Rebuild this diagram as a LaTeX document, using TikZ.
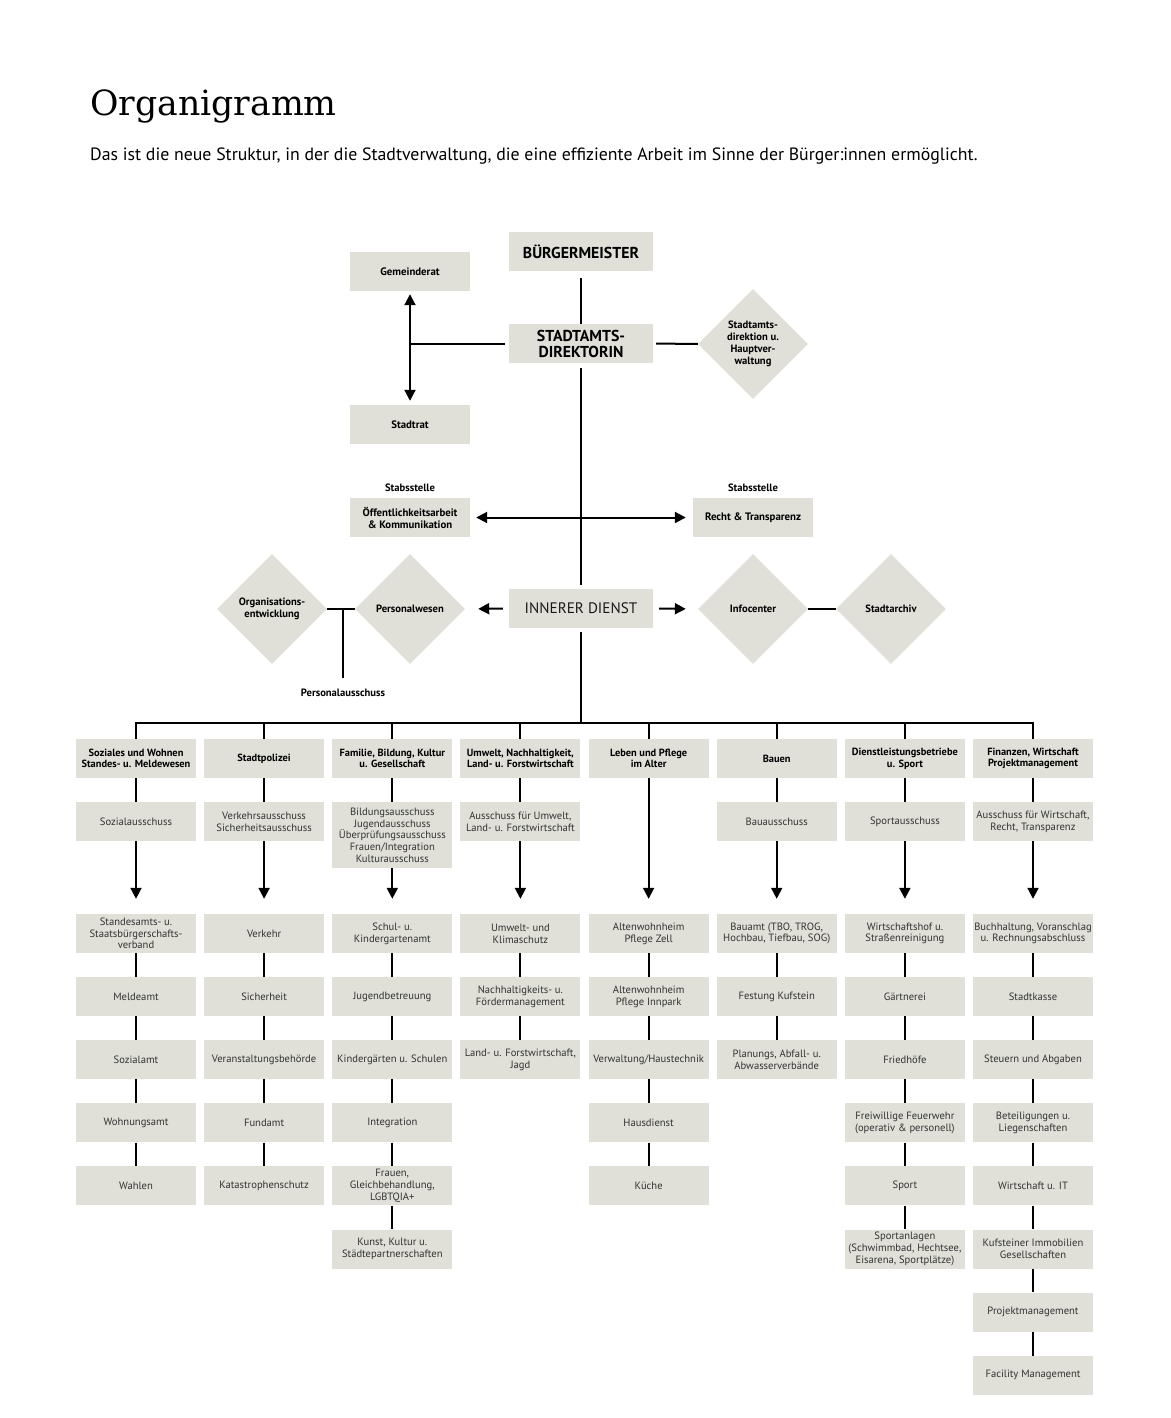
\documentclass[tikz,border=0pt]{standalone}
\usepackage{fontspec}
\setmainfont{PT Sans}
\newfontfamily\titlefont{DejaVu Serif}
\usetikzlibrary{shapes.geometric, arrows.meta, positioning, calc}
\definecolor{boxgrey}{RGB}{224,224,217}
\definecolor{textgrey}{RGB}{50,50,50}

\begin{document}
\begin{tikzpicture}[
        x=1pt, y=-1pt,
        node distance=23.7pt, % Abstand zwischen den Kästchen
        box/.style={rectangle, fill=boxgrey, minimum width=120pt, minimum height=39pt, inner sep=1.5pt, align=center, text=textgrey, font=\fontsize{10.6}{11.7}\selectfont},
        head/.style={box, text=black, font=\bfseries\fontsize{10.4}{11.7}\selectfont},
        topbox/.style={box, text=black, font=\bfseries\fontsize{10.8}{12}\selectfont},
        chief/.style={box, minimum width=144pt, text=black, font=\bfseries\fontsize{15.8}{16}\selectfont},
        rhombus/.style={diamond, fill=boxgrey, minimum width=110pt, minimum height=110pt, inner sep=0pt, align=center, font=\bfseries\fontsize{10.6}{11.8}\selectfont},
        tag/.style={font=\bfseries\fontsize{10.6}{12}\selectfont, inner sep=0pt},
        conn/.style={line width=2pt},
        arrow/.style={conn, -{Triangle[length=11pt, width=11pt]}},
        twoway/.style={conn, {Triangle[length=11pt, width=11pt]}-{Triangle[length=11pt, width=11pt]}}
    ]
    \fill[white] (0,0) rectangle (1170,1418);
    \useasboundingbox (0,0) rectangle (1170,1418);

    % --- Titel ---
    \node[anchor=base west, inner sep=0pt, font=\titlefont\fontsize{34.7}{40}\selectfont] (title) at (90,116) {Organigramm};
    \node[anchor=base west, inner sep=0pt, font=\fontsize{17.8}{20}\selectfont] (intro) at (90,160) {Das ist die neue Struktur, in der die Stadtverwaltung, die eine effiziente Arbeit im Sinne der Bürger:innen ermöglicht.};

    % --- Spitze ---
    \node[chief] (bm) at (581,251.5) {BÜRGERMEISTER};
    \node[chief] (sad) at (581,343.5) {STADTAMTS-\\DIREKTORIN};
    \node[topbox] (gr) at (410,271.5) {Gemeinderat};
    \node[topbox] (sr) at (410,424.5) {Stadtrat};
    \node[rhombus] (shv) at (753,344) {Stadtamts-\\direktion u.\\Hauptver-\\waltung};

    % --- Stabsstellen ---
    \node[topbox] (oek) at (410,517.5) {Öffentlichkeitsarbeit\\\& Kommunikation};
    \node[topbox] (rt) at (753,517.5) {Recht \& Transparenz};
    \node[tag, above=6pt of oek] (st_l) {Stabsstelle};
    \node[tag, above=6pt of rt] (st_r) {Stabsstelle};

    % --- Innerer Dienst ---
    \node[box, minimum width=144pt, text=black!90, font=\fontsize{15.2}{17}\selectfont] (inn) at (581,608.5) {INNERER DIENST};
    \node[rhombus] (pw) at (410,609) {Personalwesen};
    \node[rhombus] (oe) at (272,609) {Organisations-\\entwicklung};
    \node[rhombus] (ic) at (753,609) {Infocenter};
    \node[rhombus] (sa) at (891,609) {Stadtarchiv};
    \node[tag] (pa) at (343,693) {Personalausschuss};
    \coordinate (bus) at (581,723);

    % --- Ressorts ---
    \node[head] (soz) at (136,758.5) {Soziales und Wohnen\\Standes- u. Meldewesen};
    \node[head] (pol) at (264.1,758.5) {Stadtpolizei};
    \node[head] (fam) at (392.3,758.5) {Familie, Bildung, Kultur\\u. Gesellschaft};
    \node[head] (umw) at (520.4,758.5) {Umwelt, Nachhaltigkeit,\\Land- u. Forstwirtschaft};
    \node[head] (alt) at (648.6,758.5) {Leben und Pflege\\im Alter};
    \node[head] (bau) at (776.7,758.5) {Bauen};
    \node[head] (dls) at (904.9,758.5) {Dienstleistungsbetriebe\\u. Sport};
    \node[head] (fin) at (1033,758.5) {Finanzen, Wirtschaft\\Projektmanagement};

    % --- Ausschüsse ---
    \node[box, below=of soz] (soz_a) {Sozialausschuss};
    \node[box, below=of pol] (pol_a) {Verkehrsausschuss\\Sicherheitsausschuss};
    \node[box, below=of fam, minimum height=66pt] (fam_a) {Bildungsausschuss\\Jugendausschuss\\Überprüfungsausschuss\\Frauen/Integration\\Kulturausschuss};
    \node[box, below=of umw] (umw_a) {Ausschuss für Umwelt,\\Land- u. Forstwirtschaft};
    \node[box, below=of bau] (bau_a) {Bauausschuss};
    \node[box, below=of dls] (dls_a) {Sportausschuss};
    \node[box, below=of fin] (fin_a) {Ausschuss für Wirtschaft,\\Recht, Transparenz};

    % --- Abteilungen ---
    \node[box] (soz1) at (136,933.5) {Standesamts- u.\\Staatsbürgerschafts-\\verband};
    \node[box, below=of soz1] (soz2) {Meldeamt};
    \node[box, below=of soz2] (soz3) {Sozialamt};
    \node[box, below=of soz3] (soz4) {Wohnungsamt};
    \node[box, below=of soz4] (soz5) {Wahlen};

    \node[box] (pol1) at (264.1,933.5) {Verkehr};
    \node[box, below=of pol1] (pol2) {Sicherheit};
    \node[box, below=of pol2] (pol3) {Veranstaltungsbehörde};
    \node[box, below=of pol3] (pol4) {Fundamt};
    \node[box, below=of pol4] (pol5) {Katastrophenschutz};

    \node[box] (fam1) at (392.3,933.5) {Schul- u.\\Kindergartenamt};
    \node[box, below=of fam1] (fam2) {Jugendbetreuung};
    \node[box, below=of fam2] (fam3) {Kindergärten u. Schulen};
    \node[box, below=of fam3] (fam4) {Integration};
    \node[box, below=of fam4] (fam5) {Frauen,\\Gleichbehandlung,\\LGBTQIA+};
    \node[box, below=of fam5] (fam6) {Kunst, Kultur u.\\Städtepartnerschaften};

    \node[box] (umw1) at (520.4,933.5) {Umwelt- und\\Klimaschutz};
    \node[box, below=of umw1] (umw2) {Nachhaltigkeits- u.\\Fördermanagement};
    \node[box, below=of umw2] (umw3) {Land- u. Forstwirtschaft,\\Jagd};

    \node[box] (alt1) at (648.6,933.5) {Altenwohnheim\\Pflege Zell};
    \node[box, below=of alt1] (alt2) {Altenwohnheim\\Pflege Innpark};
    \node[box, below=of alt2] (alt3) {Verwaltung/Haustechnik};
    \node[box, below=of alt3] (alt4) {Hausdienst};
    \node[box, below=of alt4] (alt5) {Küche};

    \node[box] (bau1) at (776.7,933.5) {Bauamt (TBO, TROG,\\Hochbau, Tiefbau, SOG)};
    \node[box, below=of bau1] (bau2) {Festung Kufstein};
    \node[box, below=of bau2] (bau3) {Planungs, Abfall- u.\\Abwasserverbände};

    \node[box] (dls1) at (904.9,933.5) {Wirtschaftshof u.\\Straßenreinigung};
    \node[box, below=of dls1] (dls2) {Gärtnerei};
    \node[box, below=of dls2] (dls3) {Friedhöfe};
    \node[box, below=of dls3] (dls4) {Freiwillige Feuerwehr\\(operativ \& personell)};
    \node[box, below=of dls4] (dls5) {Sport};
    \node[box, below=of dls5] (dls6) {Sportanlagen\\(Schwimmbad, Hechtsee,\\Eisarena, Sportplätze)};

    \node[box] (fin1) at (1033,933.5) {Buchhaltung, Voranschlag\\u. Rechnungsabschluss};
    \node[box, below=of fin1] (fin2) {Stadtkasse};
    \node[box, below=of fin2] (fin3) {Steuern und Abgaben};
    \node[box, below=of fin3] (fin4) {Beteiligungen u.\\Liegenschaften};
    \node[box, below=of fin4] (fin5) {Wirtschaft u. IT};
    \node[box, below=of fin5] (fin6) {Kufsteiner Immobilien\\Gesellschaften};
    \node[box, below=of fin6] (fin7) {Projektmanagement};
    \node[box, below=of fin7] (fin8) {Facility Management};

    % --- Verbindungen oben ---
    \draw[conn, shorten <=7pt] (bm.south) -- (sad.north);
    \draw[conn, shorten <=4pt] (sad.west) -- (sad.west -| gr.south);
    \draw[twoway, shorten <=3pt, shorten >=4pt] (gr.south) -- (sr.north);
    \draw[conn, shorten <=3pt] (sad.east) -- (shv.west);
    \draw[conn, shorten <=5pt, shorten >=4pt] (sad.south) -- (inn.north);
    \draw[twoway, shorten <=6pt, shorten >=7pt] (oek.east) -- (rt.west);
    \draw[arrow, shorten <=6pt, shorten >=13pt] (inn.west) -- (pw.east);
    \draw[arrow, shorten <=6pt, shorten >=12pt] (inn.east) -- (ic.west);
    \draw[conn] (oe.east) -- (pw.west);
    \draw[conn, shorten >=11pt] ($(oe.east)!0.57!(pw.west)$) -- (pa.north -| {$(oe.east)!0.57!(pw.west)$});
    \draw[conn] (ic.east) -- (sa.west);

    % --- Sammelschiene ---
    \draw[conn, shorten <=4pt] (inn.south) -- (bus);
    \draw[conn] (soz.north) -- (soz.north |- bus) -- (fin.north |- bus) -- (fin.north);
    \draw[conn] (pol.north) -- (pol.north |- bus) (fam.north) -- (fam.north |- bus)
        (umw.north) -- (umw.north |- bus) (alt.north) -- (alt.north |- bus)
        (bau.north) -- (bau.north |- bus) (dls.north) -- (dls.north |- bus);

    % --- Ressort -> Ausschuss -> Abteilung ---
    \draw[conn] (soz) -- (soz_a) (pol) -- (pol_a) (fam) -- (fam_a) (umw) -- (umw_a)
        (bau) -- (bau_a) (dls) -- (dls_a) (fin) -- (fin_a);
    \draw[arrow, shorten >=15pt] (soz_a) -- (soz1);
    \draw[arrow, shorten >=15pt] (pol_a) -- (pol1);
    \draw[arrow, shorten >=15pt] (fam_a) -- (fam1);
    \draw[arrow, shorten >=15pt] (umw_a) -- (umw1);
    \draw[arrow, shorten >=15pt] (alt) -- (alt1);
    \draw[arrow, shorten >=15pt] (bau_a) -- (bau1);
    \draw[arrow, shorten >=15pt] (dls_a) -- (dls1);
    \draw[arrow, shorten >=15pt] (fin_a) -- (fin1);

    % --- Ketten in den Spalten ---
    \draw[conn] (soz1) -- (soz2) (soz2) -- (soz3) (soz3) -- (soz4) (soz4) -- (soz5);
    \draw[conn] (pol1) -- (pol2) (pol2) -- (pol3) (pol3) -- (pol4) (pol4) -- (pol5);
    \draw[conn] (fam1) -- (fam2) (fam2) -- (fam3) (fam3) -- (fam4) (fam4) -- (fam5) (fam5) -- (fam6);
    \draw[conn] (umw1) -- (umw2) (umw2) -- (umw3);
    \draw[conn] (alt1) -- (alt2) (alt2) -- (alt3) (alt3) -- (alt4) (alt4) -- (alt5);
    \draw[conn] (bau1) -- (bau2) (bau2) -- (bau3);
    \draw[conn] (dls1) -- (dls2) (dls2) -- (dls3) (dls3) -- (dls4) (dls4) -- (dls5) (dls5) -- (dls6);
    \draw[conn] (fin1) -- (fin2) (fin2) -- (fin3) (fin3) -- (fin4) (fin4) -- (fin5)
        (fin5) -- (fin6) (fin6) -- (fin7) (fin7) -- (fin8);

\end{tikzpicture}
\end{document}
